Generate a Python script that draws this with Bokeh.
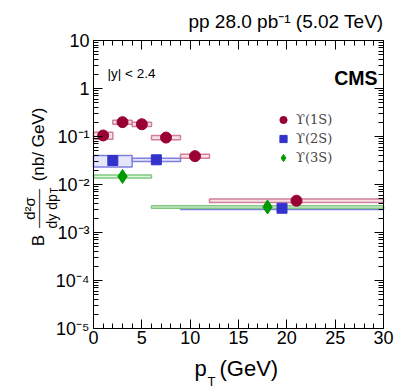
import math
from bokeh.plotting import figure
from bokeh.models import (LinearAxis, LogAxis, Label, Legend, LegendItem, FixedTicker,
                          SingleIntervalTicker, ColumnDataSource, Range1d, CustomJSTickFormatter)
from bokeh.embed import file_html
from bokeh.resources import INLINE

# ---------------- data ----------------
# Upsilon(1S)
pt_1s = [1.0, 3.0, 5.0, 7.5, 10.5, 21.0]
lo_1s = [0, 2, 4, 6, 9, 12]
hi_1s = [2, 4, 6, 9, 12, 30]
xs_1s = [0.105, 0.199, 0.180, 0.095, 0.039, 0.0046]
sys_1s = [0.17, 0.10, 0.10, 0.10, 0.10, 0.08]
# Upsilon(2S)
pt_2s = [2.0, 6.5, 19.5]
lo_2s = [0, 4, 9]
hi_2s = [4, 9, 30]
xs_2s = [0.0316, 0.0327, 0.0032]
sys_2s = [0.27, 0.08, 0.06]
# Upsilon(3S)
pt_3s = [3.0, 18.0]
lo_3s = [0, 6]
hi_3s = [6, 30]
xs_3s = [0.0147, 0.0034]
sys_3s = [0.07, 0.06]

x_lim = (0, 30)
y_lim = (1e-5, 10)
y_ticks = [1e-5, 1e-4, 1e-3, 1e-2, 1e-1, 1.0, 10.0]
y_tick_labels = ["10\u207b\u2075", "10\u207b\u2074", "10\u207b\u00b3", "10\u207b\u00b2", "10\u207b\u00b9", "1", "10"]

FONT = "Liberation Sans"

# ---------------- layout: the frame fills the canvas, axes are placed at fixed locations ----
W, H = 400, 388
AX_L, AX_R, AX_T, AX_B = 93, 383, 40, 328          # pixel box of the axes
ppx = (AX_R - AX_L) / (x_lim[1] - x_lim[0])
ppd = (AX_B - AX_T) / (math.log10(y_lim[1]) - math.log10(y_lim[0]))
xr = Range1d(x_lim[0] - AX_L / ppx, x_lim[1] + (W - AX_R) / ppx)
yr = Range1d(10 ** (math.log10(y_lim[0]) - (H - AX_B) / ppd),
             10 ** (math.log10(y_lim[1]) + AX_T / ppd))

p = figure(width=W, height=H, x_range=xr, y_range=yr, y_axis_type="log",
           min_border=0, min_border_left=0, min_border_right=0, min_border_top=0, min_border_bottom=0,
           output_backend="svg", toolbar_location=None)
p.xgrid.visible = False
p.ygrid.visible = False
p.outline_line_color = None
p.background_fill_color = "white"
p.border_fill_color = "white"

xticker = SingleIntervalTicker(interval=5, num_minor_ticks=5)
yminor = [m * 10.0 ** e for e in range(-5, 1) for m in range(2, 10)]
yticker = FixedTicker(ticks=y_ticks, minor_ticks=yminor)

def style_axis(ax, labels=True):
    ax.axis_line_color = "black"
    ax.axis_line_width = 1
    ax.major_tick_in = 9
    ax.major_tick_out = 0
    ax.minor_tick_in = 5
    ax.minor_tick_out = 0
    ax.major_tick_line_color = "black"
    ax.minor_tick_line_color = "black"
    if labels:
        ax.major_label_text_font = FONT
        ax.major_label_text_font_size = "18px"
        ax.major_label_text_color = "black"
    else:
        ax.formatter = CustomJSTickFormatter(code="return '';")
        ax.major_label_standoff = 0

bx = p.xaxis[0]
bx.ticker = xticker
bx.fixed_location = y_lim[0]
bx.bounds = x_lim
style_axis(bx)
bx.major_label_standoff = 2

ly = p.yaxis[0]
ly.ticker = yticker
ly.fixed_location = x_lim[0]
ly.bounds = y_lim
ly.major_label_overrides = {t: l for t, l in zip(y_ticks, y_tick_labels)}
style_axis(ly)
ly.major_label_standoff = 4

top = LinearAxis(ticker=xticker, fixed_location=y_lim[1], bounds=x_lim)
style_axis(top, labels=False)
p.add_layout(top, "above")
right = LogAxis(ticker=yticker, fixed_location=x_lim[1], bounds=y_lim)
style_axis(right, labels=False)
p.add_layout(right, "right")

def series(pt, lo, hi, xs, sy, line_c, fill_c):
    src = ColumnDataSource(dict(pt=pt, lo=lo, hi=hi, xs=xs,
                                bot=[v * (1 - s) for v, s in zip(xs, sy)],
                                top=[v * (1 + s) for v, s in zip(xs, sy)]))
    p.quad(left="lo", right="hi", bottom="bot", top="top", source=src,
           fill_color=fill_c, line_color=line_c, line_width=1.5, fill_alpha=1.0)
    return src

s1 = series(pt_1s, lo_1s, hi_1s, xs_1s, sys_1s, "#d0809a", "#f6e0e6")
s2 = series(pt_2s, lo_2s, hi_2s, xs_2s, sys_2s, "#7f7fe0", "#e6e6fb")
s3 = series(pt_3s, lo_3s, hi_3s, xs_3s, sys_3s, "#80c880", "#e2f4e2")

r1 = p.scatter("pt", "xs", source=s1, marker="circle", size=11, fill_color="#990033", line_color="#990033")
r2 = p.scatter("pt", "xs", source=s2, marker="square", size=10, fill_color="#3333cc", line_color="#3333cc")
r3 = p.scatter("pt", "xs", source=s3, marker="diamond", size=14, fill_color="#009900", line_color="#009900")

legend = Legend(items=[LegendItem(label="\u03d2(1S)", renderers=[r1]),
                       LegendItem(label="\u03d2(2S)", renderers=[r2]),
                       LegendItem(label="\u03d2(3S)", renderers=[r3])],
                location=(274, H - 167), glyph_width=18, glyph_height=19, label_height=19,
                spacing=0, label_standoff=4, padding=0, margin=0,
                border_line_alpha=0, background_fill_alpha=0,
                label_text_font="DejaVu Serif", label_text_font_size="13px")
p.add_layout(legend, "center")

def lab(text, ix, iy, size, align="left", base="alphabetic", angle=0.0, style="normal"):
    # ix, iy: pixel position measured from the top-left corner of the canvas
    p.add_layout(Label(x=ix, y=H - iy, x_units="screen", y_units="screen", text=text,
                       text_font=FONT, text_font_size=size, text_align=align,
                       text_baseline=base, angle=angle, text_font_style=style,
                       text_color="black"))

# header texts
lab("pp 28.0 pb\u207b\u00b9 (5.02 TeV)", 383, 21, "19px", align="right")
lab("|y| < 2.4", 107, 73, "13.5px")
lab("CMS", 377, 77, "19.5px", align="right", style="bold")

# x axis title
lab("p", 194, 368, "22px")
lab("T", 207, 381, "13px")
lab("(GeV)", 219, 368, "22px")

# y axis title (rotated, reads bottom to top)
A = math.pi / 2
lab("B", 38, 240, "17px", align="center", angle=A)
lab("d\u00b2\u03c3", 29, 208, "15px", align="center", angle=A)
lab("\u2014\u2014\u2014", 38, 208, "13px", align="center", angle=A)
lab("dy dp", 51, 228, "14px", align="left", angle=A)
lab("T", 54, 193, "10px", align="left", angle=A)
lab("(nb/ GeV)", 38, 144, "17px", align="center", angle=A)

open("out.html", "w").write(file_html(p, INLINE))
